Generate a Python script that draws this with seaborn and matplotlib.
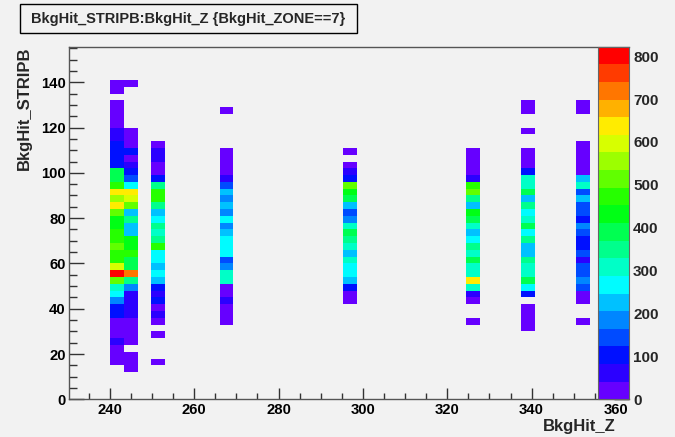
import numpy as np
import pandas as pd
import matplotlib
matplotlib.use("Agg")
import matplotlib.pyplot as plt
import seaborn as sns
from matplotlib.colors import ListedColormap, hsv_to_rgb
from matplotlib.patches import Rectangle
from matplotlib.ticker import MultipleLocator

# --- Data: hits per (Z, STRIPB) cell for BkgHit_ZONE==7 ---
# each column is one Z bin; counts run upward from its first STRIPB bin (3 strips per bin)
z_centers = [241.7, 244.9, 251.4, 267.7, 296.9, 326.2, 339.2, 352.3]
strip_first_bin = [5, 4, 5, 11, 14, 11, 10, 11]

counts_z242 = [20, 20, 20, 60, 20, 20, 20, 100, 100, 185, 265, 310, 515, 822, 595,
               470, 470, 515, 470, 470, 430, 430, 515, 640, 555, 640, 470, 390, 390,
               100, 100, 100, 100, 60, 60, 20, 20, 20, 20, 0, 20, 20]
counts_z245 = [20, 20, 20, 0, 20, 20, 20, 20, 60, 60, 60, 60, 185, 350, 720, 390,
               390, 470, 430, 430, 225, 225, 350, 225, 515, 595, 640, 265, 145, 100,
               60, 35, 100, 20, 20, 20, 0, 0, 0, 0, 0, 0, 20]
counts_z251 = [20, 0, 0, 0, 20, 0, 20, 60, 20, 100, 60, 100, 225, 265, 225, 265,
               265, 470, 350, 310, 350, 265, 225, 350, 470, 470, 350, 100, 20, 20,
               60, 60, 20]
counts_z268 = [20, 20, 20, 60, 20, 20, 310, 310, 185, 145, 265, 265, 265, 225, 185,
               265, 185, 225, 185, 225, 145, 60, 20, 20, 20, 20, 0, 0, 0, 0, 0, 20]
counts_z297 = [20, 20, 100, 225, 265, 265, 310, 225, 310, 350, 390, 310, 185, 145,
               225, 390, 430, 515, 100, 60, 20, 0, 20]
counts_z326 = [20, 0, 0, 20, 60, 310, 640, 310, 310, 390, 310, 350, 265, 225, 310,
               390, 430, 225, 350, 515, 470, 60, 20, 20, 20, 20]
counts_z339 = [20, 20, 20, 20, 0, 100, 265, 390, 310, 310, 350, 225, 225, 350, 265,
               390, 310, 265, 350, 225, 390, 310, 310, 100, 20, 20, 20, 0, 0, 20,
               0, 0, 20, 20]
counts_z352 = [20, 0, 0, 20, 20, 145, 185, 145, 145, 60, 145, 100, 100, 145, 185,
               100, 145, 145, 225, 145, 310, 225, 20, 20, 20, 20, 20, 0, 0, 0, 0,
               20, 20]

columns = [counts_z242, counts_z245, counts_z251, counts_z268,
           counts_z297, counts_z326, counts_z339, counts_z352]

z_lo, z_binw, z_nbins = 230.3, 3.25, 40
strip_binw, strip_nbins = 3, 52
z_max_count = 822

rows = []
for z, first, counts in zip(z_centers, strip_first_bin, columns):
    for j, c in enumerate(counts):
        if c > 0:
            rows.append({"z": z, "strip": (first + j) * strip_binw + 1.5, "count": c})
hits = pd.DataFrame(rows)

z_edges = z_lo + z_binw * np.arange(z_nbins + 1)
strip_edges = strip_binw * np.arange(strip_nbins + 1)

# ROOT style rainbow palette, 20 contour bands from violet to red
hues = 264 * (1 - np.arange(20) / 19) / 360
root_cmap = ListedColormap(hsv_to_rgb(np.column_stack([hues, np.ones(20), np.ones(20)])))

# --- Style ---
canvas = "#f2f2f2"
sns.set_style("ticks")
plt.rcParams["font.family"] = ["Liberation Sans", "DejaVu Sans"]
plt.rcParams["font.weight"] = "bold"

W, H = 675, 437
fig = plt.figure(figsize=(W / 100, H / 100), dpi=100, facecolor=canvas)

def fx(px):
    return px / W

def fy(py):
    return 1 - py / H

ax_left, ax_right, ax_top, ax_bottom = 69, 629, 46.7, 399.3
ax = fig.add_axes([fx(ax_left), fy(ax_bottom), (ax_right - ax_left) / W, (ax_bottom - ax_top) / H])
ax.set_facecolor(canvas)

sns.histplot(data=hits, x="z", y="strip", weights="count", bins=(z_edges, strip_edges),
             cmap=root_cmap, vmin=0, vmax=z_max_count, ax=ax)
mesh = ax.collections[0]

ax.set_xlim(230.3, 363.1)
ax.set_ylim(0, 155.7)
ax.set_xlabel("")
ax.set_ylabel("")
ax.xaxis.set_major_locator(MultipleLocator(20))
ax.xaxis.set_minor_locator(MultipleLocator(5))
ax.yaxis.set_major_locator(MultipleLocator(20))
ax.yaxis.set_minor_locator(MultipleLocator(5))
ax.tick_params(axis="both", which="both", direction="in", top=False, right=False,
               colors="#333333", width=1, labelsize=10.7, labelcolor="black")
ax.tick_params(axis="y", which="major", length=11, pad=2.4)
ax.tick_params(axis="y", which="minor", length=5.5)
ax.tick_params(axis="x", which="major", length=8, pad=3)
ax.tick_params(axis="x", which="minor", length=4)
for side in ["left", "bottom", "top"]:
    ax.spines[side].set_color("#555555")
    ax.spines[side].set_linewidth(1)
ax.spines["right"].set_visible(False)
for lab in ax.get_xticklabels() + ax.get_yticklabels():
    lab.set_fontweight("bold")

# axis titles, right aligned at the axis ends as ROOT draws them
fig.text(fx(24), fy(46), "BkgHit_STRIPB", rotation=90, ha="center", va="top",
         fontsize=12, fontweight="bold")
fig.text(fx(616), fy(427), "BkgHit_Z", ha="right", va="center",
         fontsize=12, fontweight="bold")

# palette on the right, drawn over the plot frame
cax = fig.add_axes([fx(598), fy(ax_bottom), 31 / W, (ax_bottom - ax_top) / H])
cb = fig.colorbar(mesh, cax=cax)
cb.set_ticks(range(0, 801, 100))
cb.minorticks_off()
cb.outline.set_edgecolor("#666666")
cb.outline.set_linewidth(0.8)
cax.tick_params(direction="in", length=11, width=1, color="black", labelsize=11, pad=3)
for lab in cax.get_yticklabels():
    lab.set_fontweight("bold")

# title box
fig.patches.append(Rectangle((fx(20), fy(33)), (357 - 20) / W, (33 - 4) / H,
                             transform=fig.transFigure, facecolor=canvas,
                             edgecolor="black", linewidth=1))
fig.text(fx(188), fy(18.5), "BkgHit_STRIPB:BkgHit_Z {BkgHit_ZONE==7}", ha="center",
         va="center", fontsize=10.5, fontweight="bold")

fig.savefig("out.png", dpi=100, facecolor=canvas)
